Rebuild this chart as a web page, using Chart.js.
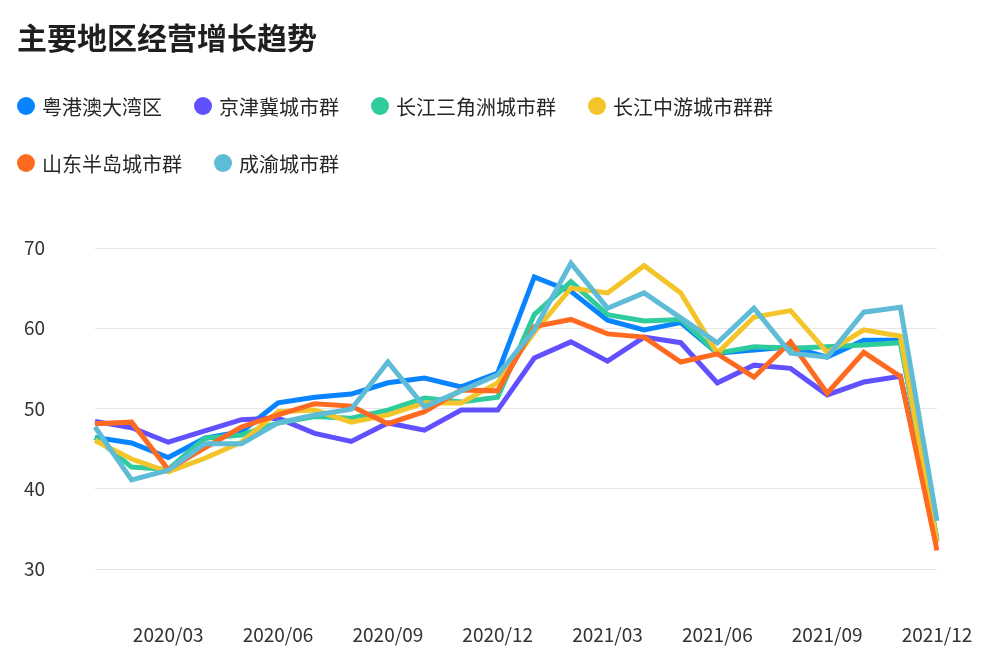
<!DOCTYPE html>
<html>
<head>
<meta charset="utf-8">
<script src="https://cdn.jsdelivr.net/npm/chart.js@4/dist/chart.umd.min.js"></script>
<style>
  body { margin: 0; background: #fff; font-family: "Noto Sans CJK SC", "Noto Sans", sans-serif; }
  #wrap { position: relative; width: 987px; height: 666px; overflow: hidden; }
  #myChart { position: absolute; left: 0; top: 0; }
  .title { position: absolute; left: 17px; top: 15px; font-size: 30px; font-weight: bold; color: #1f1f1f; line-height: 42px; }
  .legend { position: absolute; left: 17px; top: 92px; width: 960px; display: flex; flex-wrap: wrap; row-gap: 29px; }
  .item { display: flex; align-items: center; height: 28px; margin-right: 32px; font-size: 20px; color: #262626; }
  .dot { width: 18px; height: 18px; border-radius: 50%; margin-right: 7px; }
</style>
</head>
<body>
<div id="wrap">
  <canvas id="myChart" width="987" height="666"></canvas>
  <div class="title">主要地区经营增长趋势</div>
  <div class="legend" id="legend"></div>
</div>
<script>
const months = [
  "2020/01","2020/02","2020/03","2020/04","2020/05","2020/06",
  "2020/07","2020/08","2020/09","2020/10","2020/11","2020/12",
  "2021/01","2021/02","2021/03","2021/04","2021/05","2021/06",
  "2021/07","2021/08","2021/09","2021/10","2021/11","2021/12"
];
const tickMonths = ["2020/03","2020/06","2020/09","2020/12","2021/03","2021/06","2021/09","2021/12"];

const names = ["粤港澳大湾区","京津冀城市群","长江三角洲城市群","长江中游城市群群","山东半岛城市群","成渝城市群"];
const colors = ["#0984ff","#6150ff","#2ecc9d","#f3c52a","#ff6a21","#5fbcd6"];

const gba      = [46.4,45.7,43.9,46.3,47.1,50.7,51.4,51.8,53.2,53.8,52.7,54.4,66.4,64.6,61.0,59.8,60.7,56.9,57.3,57.7,56.4,58.5,58.5,33.6];
const jjj      = [48.4,47.6,45.8,47.2,48.6,48.8,46.9,45.9,48.2,47.3,49.8,49.8,56.3,58.3,55.9,58.9,58.2,53.2,55.4,55.0,51.7,53.3,54.0,33.5];
const yrd      = [46.4,42.7,42.4,46.3,46.7,48.2,49.0,48.8,49.8,51.3,50.8,51.4,61.7,65.8,61.7,60.9,61.1,56.9,57.7,57.5,57.7,57.9,58.2,33.6];
const mid      = [46.0,43.7,42.1,43.8,45.8,49.6,49.8,48.3,49.2,50.7,50.7,53.2,59.5,65.0,64.4,67.8,64.4,56.9,61.4,62.2,57.0,59.8,59.0,33.3];
const shandong = [48.1,48.3,42.4,45.1,47.7,49.2,50.6,50.3,48.1,49.6,52.3,52.2,60.2,61.1,59.3,58.9,55.8,56.8,53.9,58.3,51.9,57.0,54.0,32.3];
const chengyu  = [47.7,41.1,42.3,45.6,45.6,48.2,49.2,49.9,55.8,50.2,52.2,54.2,59.8,68.1,62.5,64.4,61.3,58.2,62.5,56.9,56.4,62.0,62.6,36.0];
const yTicks = [30,40,50,60,70];

const series = [gba, jjj, yrd, mid, shandong, chengyu];

// html legend
const legend = document.getElementById('legend');
names.forEach((n, i) => {
  const it = document.createElement('div');
  it.className = 'item';
  it.innerHTML = '<span class="dot" style="background:' + colors[i] + '"></span>' + n;
  legend.appendChild(it);
});

Chart.defaults.font.family = '"Noto Sans CJK SC", "Noto Sans", sans-serif';
Chart.defaults.color = '#333';

const ctx = document.getElementById('myChart').getContext('2d');
const data = {
  labels: months,
  datasets: series.map((s, i) => ({
    label: names[i],
    data: s,
    borderColor: colors[i],
    backgroundColor: colors[i],
    borderWidth: 5,
    pointRadius: 0,
    tension: 0,
    fill: false,
    order: series.length - 1 - i
  }))
};

const config = {
  type: 'line',
  data: data,
  options: {
    responsive: false,
    animation: false,
    devicePixelRatio: 1,
    layout: { padding: { top: 248, right: 50, left: 0, bottom: 0 } },
    plugins: { legend: { display: false }, title: { display: false }, tooltip: { enabled: false } },
    scales: {
      x: {
        grid: { display: false },
        border: { display: false },
        afterFit: (scale) => { scale.height = 97; scale.paddingLeft = 0; scale.paddingRight = 0; },
        ticks: {
          autoSkip: false,
          maxRotation: 0,
          padding: 46,
          font: { size: 19 },
          color: '#333',
          callback: function (v) {
            const l = this.getLabelForValue(v);
            return tickMonths.includes(l) ? l : '';
          }
        }
      },
      y: {
        min: 30,
        max: 70,
        afterFit: (scale) => { scale.width = 95; },
        afterBuildTicks: (scale) => { scale.ticks = yTicks.map(v => ({ value: v })); },
        grid: { color: '#e5e5e5', lineWidth: 1, drawTicks: false },
        border: { display: false },
        ticks: { padding: 50, font: { size: 19 }, color: '#333' }
      }
    }
  }
};

const myChart = new Chart(ctx, config);
</script>
</body>
</html>
